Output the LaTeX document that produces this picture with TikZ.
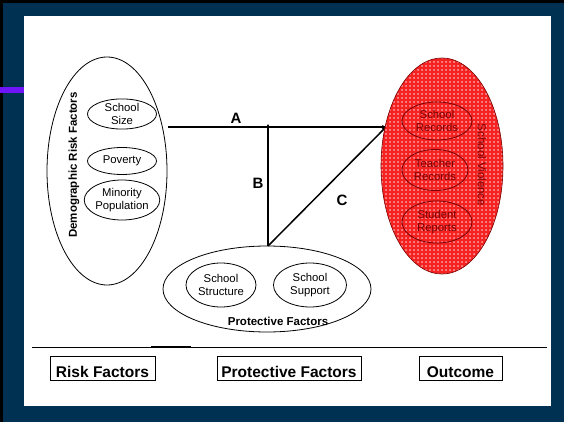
\documentclass[tikz,border=0pt]{standalone}
\usepackage{fontspec}
\setmainfont{Liberation Sans}
\usetikzlibrary{shapes.geometric,arrows.meta}
\definecolor{navy}{RGB}{0,48,82}
\definecolor{violetbar}{RGB}{112,20,250}
\definecolor{darkred}{RGB}{120,0,0}
\definecolor{gridred}{RGB}{245,10,10}
\definecolor{cellpink}{RGB}{250,120,120}
\begin{document}
\begin{tikzpicture}[x=1pt,y=-1pt,
  ell/.style={ellipse,draw=black,line width=0.8pt,inner sep=0pt,align=center,
    font=\fontsize{11.3}{13}\selectfont},
  redell/.style={ell,draw=darkred,text=darkred},
  lbl/.style={font=\bfseries\fontsize{11.5}{13}\selectfont,inner sep=0pt},
  letter/.style={font=\bfseries\fontsize{15}{17}\selectfont,inner sep=0pt},
  keybox/.style={draw=black,line width=0.8pt,rectangle,minimum height=24pt,inner sep=0pt,
    font=\bfseries\fontsize{15.5}{17}\selectfont},
  conn/.style={line width=1.3pt,-{Stealth[length=4pt,width=4pt]}}
]
\useasboundingbox (0,0) rectangle (564,422);
% frame
\fill[navy] (0,0) rectangle (564,422);
\fill[black] (0,0) rectangle (3,422);
\fill[black] (0,0) rectangle (564,3);
\fill[white] (24,16) rectangle (551,406);
\fill[violetbar] (0,87) rectangle (24,93);

% left ellipse
\node[ell,minimum width=120pt,minimum height=228pt] (L) at (107,171) {};
\node[lbl,rotate=90] (Ltxt) at (74,165) {Demographic Risk Factors};
\node[ell,minimum width=69pt,minimum height=28pt] (size) at (122,114) {School\\Size};
\node[ell,minimum width=69pt,minimum height=27pt] (pov) at (122,161) {Poverty};
\node[ell,minimum width=71pt,minimum height=40pt] (min) at (122,200) {Minority\\Population};

% bottom ellipse
\node[ell,minimum width=208pt,minimum height=86pt] (P) at (267,289) {};
\node[ell,minimum width=70pt,minimum height=44pt] (struct) at (221,285) {School\\Structure};
\node[ell,minimum width=73pt,minimum height=44pt] (supp) at (310,285) {School\\Support};
\node[lbl] (Ptxt) at (278,321) {Protective Factors};

% connectors
\coordinate (a1) at (168,127);
\coordinate (a2) at (386,127);
\coordinate (j) at (268,124);
\coordinate (p0) at (268,246);
\draw[conn,line width=1.2pt] (a1) -- (a2);
\draw[conn,line width=2pt] (p0) -- (j);
\draw[conn,line width=1.5pt] (p0) -- (a2);
\node[letter] (A) at (236,118) {A};
\node[letter] (B) at (258,183) {B};
\node[letter] (C) at (342,200) {C};

% outcome ellipse: pink cells with a red grid
\begin{scope}[transparency group,opacity=0.9]
  \clip (442,166) ellipse [x radius=61pt,y radius=108pt];
  \fill[cellpink] (380,57) rectangle (504,275);
  \draw[gridred,line width=2pt,step=4pt] (380,56) grid (504,276);
\end{scope}
\node[ellipse,minimum width=122pt,minimum height=216pt,inner sep=0pt,draw=darkred,line width=0.6pt] (R) at (442,166) {};
\node[redell,minimum width=70pt,minimum height=38pt] (rec) at (437,121) {School\\Records};
\node[redell,minimum width=66pt,minimum height=41pt] (teach) at (435,170) {Teacher\\Records};
\node[redell,minimum width=70pt,minimum height=42pt] (stud) at (437,222) {Student\\Reports};
\node[font=\fontsize{11.5}{13}\selectfont,text=darkred,rotate=-90,inner sep=0pt] (Rtxt) at (482,165) {School Violence};

% bottom key
\draw[line width=0.8pt] (32,347) coordinate (k1) -- (547,347) coordinate (k2);
\draw[line width=1.3pt] (151,347) coordinate (k3) -- (191,347) coordinate (k4);
\node[keybox,minimum width=105pt] (kr) at (102.5,368) {\raisebox{-9pt}[0pt][0pt]{Risk Factors}};
\node[keybox,minimum width=144pt] (kp) at (289,368) {\raisebox{-9pt}[0pt][0pt]{Protective Factors}};
\node[keybox,minimum width=83pt] (ko) at (460.5,368) {\raisebox{-9pt}[0pt][0pt]{Outcome}};
\end{tikzpicture}
\end{document}
